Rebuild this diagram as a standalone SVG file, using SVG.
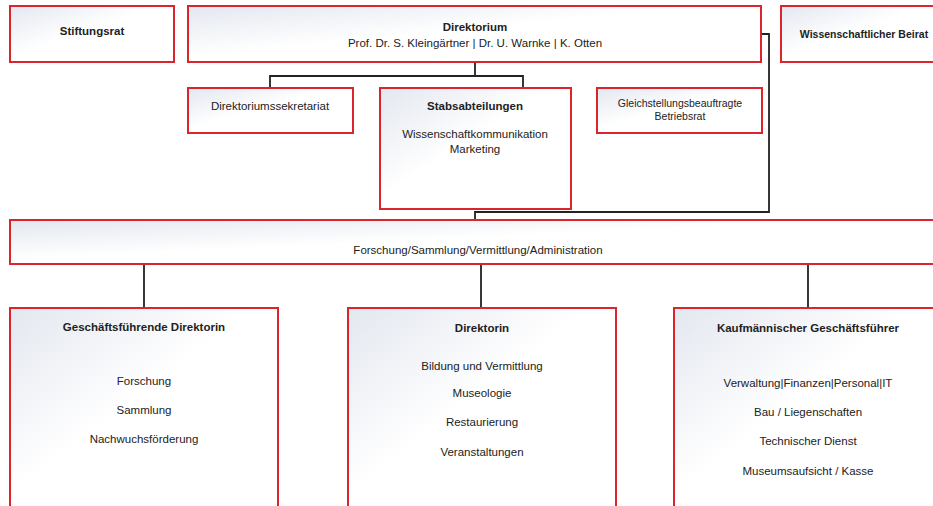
<svg xmlns="http://www.w3.org/2000/svg" width="933" height="506" viewBox="0 0 933 506">
<defs>
<linearGradient id="g" x1="0" y1="0" x2="1" y2="1">
<stop offset="0" stop-color="#e3e7ef"/>
<stop offset="0.45" stop-color="#ffffff"/>
<stop offset="1" stop-color="#ffffff"/>
</linearGradient>
</defs>
<style>
.box{fill:url(#g);stroke:#d8262c;stroke-width:2}
.t{font-family:"Liberation Sans","DejaVu Sans",sans-serif;font-size:11.5px;fill:#222;text-anchor:middle}
.b{font-weight:bold}
.s{font-size:10.5px}
.c{fill:none;stroke:#222;stroke-width:1.8}
</style>
<rect width="933" height="506" fill="#fff"/>
<g id="connectors">
<polyline class="c" points="475,62 475,76"/>
<polyline class="c" points="270,88 270,76 523,76 523,88"/>
<polyline class="c" points="761,34 769,34 769,212 475,212 475,220"/>
<polyline class="c" points="144,264 144,308"/>
<polyline class="c" points="481,264 481,308"/>
<polyline class="c" points="808,264 808,308"/>
</g>
<g id="stiftungsrat">
<rect class="box" x="10" y="6" width="164" height="56"/>
<text class="t b" x="92" y="35">Stiftungsrat</text>
</g>
<g id="direktorium">
<rect class="box" x="188" y="6" width="573" height="56"/>
<text class="t b" x="475" y="31">Direktorium</text>
<text class="t" x="475" y="47">Prof. Dr. S. Kleingärtner | Dr. U. Warnke | K. Otten</text>
</g>
<g id="beirat">
<rect class="box" x="781" y="6" width="160" height="56"/>
<text class="t b s" x="864" y="38">Wissenschaftlicher Beirat</text>
</g>
<g id="sekretariat">
<rect class="box" x="188" y="88" width="165" height="45"/>
<text class="t" x="270" y="110">Direktoriumssekretariat</text>
</g>
<g id="stabsabteilungen">
<rect class="box" x="380" y="88" width="191" height="121"/>
<text class="t b" x="475" y="110">Stabsabteilungen</text>
<text class="t" x="475" y="138">Wissenschaftkommunikation</text>
<text class="t" x="475" y="153">Marketing</text>
</g>
<g id="gleichstellung">
<rect class="box" x="597" y="88" width="165" height="45"/>
<text class="t s" x="680" y="107">Gleichstellungsbeauftragte</text>
<text class="t s" x="680" y="120">Betriebsrat</text>
</g>
<g id="forschung">
<rect class="box" x="10" y="220" width="931" height="44"/>
<text class="t" x="478" y="254">Forschung/Sammlung/Vermittlung/Administration</text>
</g>
<g id="gf-direktorin">
<rect class="box" x="10" y="308" width="268" height="206"/>
<text class="t b" x="144" y="331">Geschäftsführende Direktorin</text>
<text class="t" x="144" y="385">Forschung</text>
<text class="t" x="144" y="414">Sammlung</text>
<text class="t" x="144" y="443">Nachwuchsförderung</text>
</g>
<g id="direktorin">
<rect class="box" x="348" y="308" width="268" height="206"/>
<text class="t b" x="482" y="332">Direktorin</text>
<text class="t" x="482" y="370">Bildung und Vermittlung</text>
<text class="t" x="482" y="397">Museologie</text>
<text class="t" x="482" y="426">Restaurierung</text>
<text class="t" x="482" y="456">Veranstaltungen</text>
</g>
<g id="kaufmaennisch">
<rect class="box" x="674" y="308" width="268" height="206"/>
<text class="t b" x="808" y="332">Kaufmännischer Geschäftsführer</text>
<text class="t" x="808" y="387">Verwaltung|Finanzen|Personal|IT</text>
<text class="t" x="808" y="416">Bau / Liegenschaften</text>
<text class="t" x="808" y="445">Technischer Dienst</text>
<text class="t" x="808" y="475">Museumsaufsicht / Kasse</text>
</g>
</svg>
